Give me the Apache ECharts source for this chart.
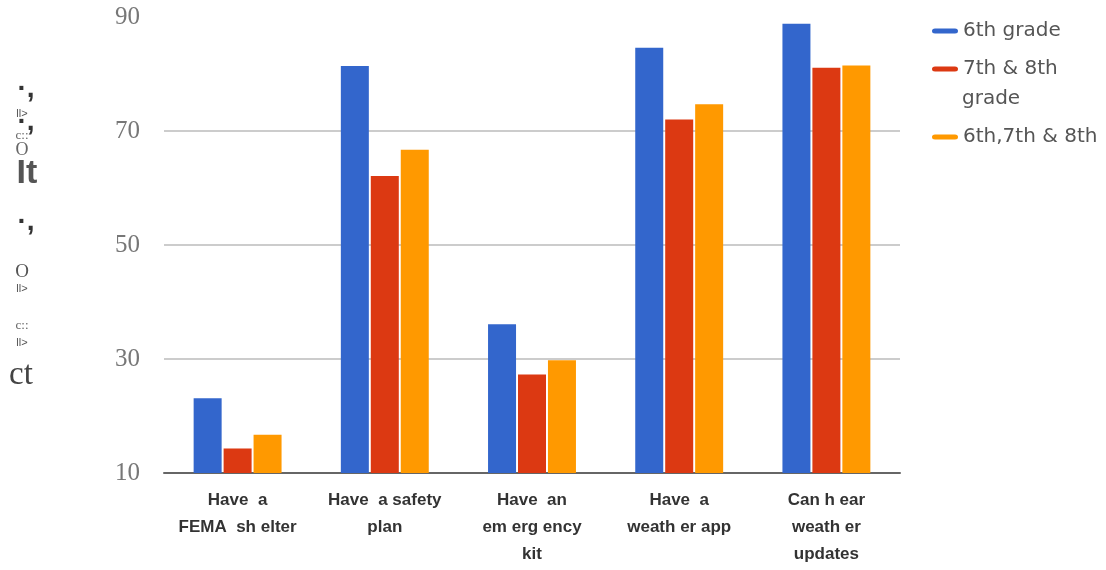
<!DOCTYPE html>
<html>
<head>
<meta charset="utf-8">
<script src="https://cdn.jsdelivr.net/npm/echarts@6/dist/echarts.min.js"></script>
<style>
  html, body { margin: 0; padding: 0; background: #fff; }
  #chart { width: 1106px; height: 570px; }
</style>
</head>
<body>
<div id="chart"></div>
<script>
// categories (x axis)
const categories = [
  "Have  a\nFEMA  sh elter",
  "Have  a safety\nplan",
  "Have  an\nem erg ency\nkit",
  "Have  a\nweath er app",
  "Can h ear\nweath er\nupdates",
];
const seriesNames = ["6th grade", "7th & 8th grade", "6th,7th & 8th"];
// series values
const grade6 = [23.1, 81.4, 36.1, 84.6, 88.8];
const grade78 = [14.3, 62.1, 27.3, 72.0, 81.1];
const grade678 = [16.7, 66.7, 29.8, 74.7, 81.5];
const yTicks = [10, 30, 50, 70, 90];

const colors = ["#3366cc", "#dc3912", "#ff9900"];
const pill = "path://M3,0 L23,0 A3,2.5 0 0 1 23,5 L3,5 A3,2.5 0 0 1 3,0 Z";

// garbled rotated axis title, as it appears on the left
const sideBits = [
  { t: "·,", x: 26, y: 89, f: "bold 28px 'Liberation Sans'", c: "#333" },
  { t: "ll>", x: 22, y: 114, f: "11px 'Liberation Sans'", c: "#555" },
  { t: "·,", x: 26, y: 122, f: "bold 28px 'Liberation Sans'", c: "#333" },
  { t: "c::", x: 22, y: 136, f: "13px 'Liberation Serif'", c: "#666" },
  { t: "O", x: 22, y: 150, f: "18px 'Liberation Serif'", c: "#666" },
  { t: "It", x: 27, y: 174, f: "bold 34px 'Liberation Sans Narrow', 'Liberation Sans'", c: "#555" },
  { t: "·,", x: 26, y: 222, f: "bold 28px 'Liberation Sans'", c: "#333" },
  { t: "O", x: 22, y: 272, f: "19px 'Liberation Serif'", c: "#555" },
  { t: "ll>", x: 22, y: 289, f: "11px 'Liberation Sans'", c: "#555" },
  { t: "c::", x: 22, y: 326, f: "13px 'Liberation Serif'", c: "#666" },
  { t: "ll>", x: 22, y: 343, f: "11px 'Liberation Sans'", c: "#555" },
  { t: "ct", x: 21, y: 375, f: "33px 'Liberation Serif'", c: "#444" },
];

let myChart = echarts.init(document.getElementById("chart"));

const legendBase = {
  orient: "vertical",
  left: 932,
  padding: 0,
  icon: pill,
  itemWidth: 26,
  itemHeight: 5,
  itemGap: 5,
  textStyle: { fontSize: 20, color: "#555", fontFamily: "'DejaVu Sans', sans-serif" },
  selectedMode: false,
};

const option = {
  color: colors,
  animation: false,
  grid: { left: 164, right: 206, top: 17, bottom: 97 },
  legend: [
    Object.assign({}, legendBase, { top: 21, data: [seriesNames[0]] }),
    Object.assign({}, legendBase, {
      top: 59,
      data: [seriesNames[1]],
      formatter: () => "7th & 8th",
    }),
    Object.assign({}, legendBase, { top: 127, data: [seriesNames[2]] }),
  ],
  graphic: [
    {
      type: "text",
      left: 962,
      top: 89,
      style: { text: "grade", font: "20px 'DejaVu Sans'", fill: "#555" },
    },
  ].concat(
    sideBits.map((b) => ({
      type: "text",
      x: b.x,
      y: b.y,
      style: { text: b.t, font: b.f, fill: b.c, align: "center", verticalAlign: "middle" },
    }))
  ),
  xAxis: {
    type: "category",
    data: categories,
    axisTick: { show: false },
    axisLine: { lineStyle: { color: "#666", width: 2 } },
    axisLabel: {
      interval: 0,
      margin: 14,
      fontSize: 17,
      fontWeight: "bold",
      lineHeight: 27,
      color: "#333",
      fontFamily: "'Liberation Sans', Arial",
    },
  },
  yAxis: {
    type: "value",
    min: yTicks[0],
    max: yTicks[yTicks.length - 1],
    interval: 20,
    axisLine: { show: false },
    axisTick: { show: false },
    axisLabel: {
      margin: 24,
      fontSize: 25,
      color: "#777",
      fontFamily: "'Liberation Serif', serif",
    },
    splitLine: {
      lineStyle: {
        color: ["#ccc", "#ccc", "#ccc", "#ccc", "rgba(0,0,0,0)"],
        width: 2,
      },
    },
  },
  series: [
    { name: seriesNames[0], type: "bar", data: grade6, barWidth: 28, barGap: "7%" },
    { name: seriesNames[1], type: "bar", data: grade78, barWidth: 28, barGap: "7%" },
    { name: seriesNames[2], type: "bar", data: grade678, barWidth: 28, barGap: "7%" },
  ],
};

myChart.setOption(option, true);

window.addEventListener("resize", () => {
  myChart.resize();
});
</script>
</body>
</html>
